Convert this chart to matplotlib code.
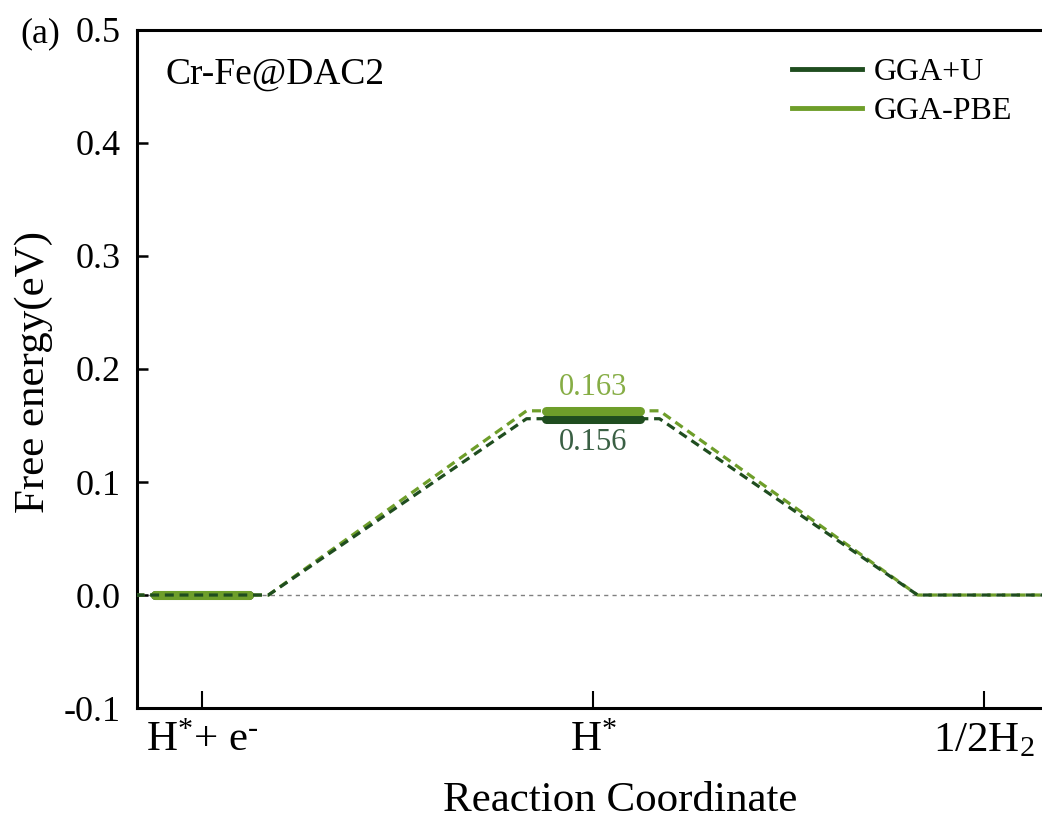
import numpy as np
import matplotlib
matplotlib.use('Agg')
import matplotlib.pyplot as plt

# data
states = [r'H$^{*}$+ e$^{\text{-}}$', r'H$^{*}$', r'1/2H$_{2}$']
positions = [1, 2, 3]
gga_u = [0.0, 0.156, 0.0]
gga_pbe = [0.0, 0.163, 0.0]
labels = ['GGA+U', 'GGA-PBE']
dark = '#1f4d1f'
light = '#6e9e2a'

plt.rcParams['font.family'] = 'Liberation Serif'
plt.rcParams['mathtext.fontset'] = 'custom'
plt.rcParams['mathtext.rm'] = 'Liberation Serif'
plt.rcParams['mathtext.it'] = 'Liberation Serif'

fig = plt.figure(figsize=(10.42, 8.21), dpi=100)
ax = fig.add_axes([0.1315, 0.1376, 0.8685, 0.8259])

# zero reference
ax.axhline(0, color='grey', lw=1, ls=(0, (3, 3)), zorder=1)

# thick levels (last level only shown by the dashed line)
hw = 0.12
for vals, c in [(gga_u, dark), (gga_pbe, light)]:
    for p, v in list(zip(positions, vals))[:2]:
        ax.plot([p - hw, p + hw], [v, v], color=c, lw=6.5,
                solid_capstyle='round', zorder=2)

# dashed connecting paths
off = 0.17
for vals, c in [(gga_pbe, light), (gga_u, dark)]:
    xs, ys = [], []
    for p, v in zip(positions, vals):
        xs += [p - off, p + off]
        ys += [v, v]
    ax.plot(xs, ys, color=c, lw=2.3, ls=(0, (2.8, 1.8)), zorder=3)

# legend handles
h1, = ax.plot([], [], color=dark, lw=3.5)
h2, = ax.plot([], [], color=light, lw=3.5)
fig.legend([h1, h2], labels, loc='upper left',
           bbox_to_anchor=(792 / 1042, 1 - 58 / 821), frameon=False,
           fontsize=23, handlelength=2.2, handletextpad=0.35,
           labelspacing=0.3, borderpad=0, borderaxespad=0)

# value labels
ax.annotate(f'{gga_pbe[1]:.3f}', (positions[1], gga_pbe[1]), xytext=(0, 17),
            textcoords='offset points', ha='center', va='center',
            fontsize=22, color='#86ad45')
ax.annotate(f'{gga_u[1]:.3f}', (positions[1], gga_u[1]), xytext=(0, -17),
            textcoords='offset points', ha='center', va='center',
            fontsize=22, color='#3a6044')

ax.set_xlim(0.834, 3.148)
ax.set_ylim(-0.1, 0.5)
ax.set_xticks(positions)
ax.set_xticklabels(states, fontsize=31)
ax.set_yticks(np.arange(-0.1, 0.51, 0.1))
ax.set_yticklabels(['-0.1', '0.0', '0.1', '0.2', '0.3', '0.4', '0.5'], fontsize=26)
ax.tick_params(axis='y', direction='in', length=8, width=1.8, pad=12)
ax.tick_params(axis='x', direction='in', length=12, width=1.5, pad=10)

for s in ['left', 'bottom', 'top']:
    ax.spines[s].set_linewidth(2.2)
ax.spines['right'].set_visible(False)

ax.set_xlabel('Reaction Coordinate', fontsize=31)
ax.xaxis.set_label_coords((620 - 137) / 905, -0.108)
ax.set_ylabel('Free energy(eV)', fontsize=31)
ax.yaxis.set_label_coords(-0.093, 0.495)

ax.text(0.031, 0.934, 'Cr-Fe@DAC2', transform=ax.transAxes, fontsize=27,
        va='center', ha='left')
fig.text(20 / 1042, 1 - 34 / 821, '(a)', fontsize=26, va='center', ha='left')

fig.savefig('out.png', dpi=100)
